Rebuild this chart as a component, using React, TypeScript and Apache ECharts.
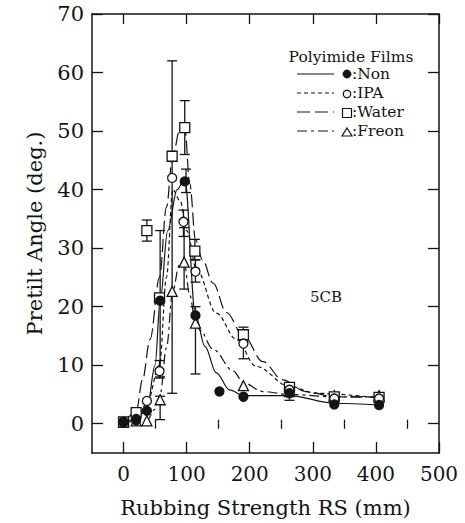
import React, { useEffect, useRef } from "react";
import * as echarts from "echarts";

const FONT = "DejaVu Serif";
const INK = "#141414";

// axis ticks
const xTickLabels = [0, 100, 200, 300, 400, 500];
const xMinorTicks = [50, 150, 250, 350, 450];
const yTickLabels = [0, 10, 20, 30, 40, 50, 60, 70];

// measured points (RS in mm, pretilt angle in deg)
const nonRS = [0, 20, 37, 58, 97, 114, 152, 190, 263, 334, 405];
const nonAngle = [0.3, 0.8, 2.2, 21.0, 41.4, 18.5, 5.5, 4.6, 5.2, 3.3, 3.2];

const ipaRS = [0, 20, 37, 57, 77, 95, 114, 190, 263, 334, 405];
const ipaAngle = [0.3, 0.6, 3.9, 9.0, 42.0, 34.5, 26.0, 13.7, 5.8, 4.3, 4.3];

const waterRS = [0, 20, 37, 57, 77, 97, 113, 190, 263, 334, 405];
const waterAngle = [0.3, 1.9, 33.0, 21.5, 45.7, 50.6, 29.5, 15.2, 6.2, 4.6, 4.5];

const freonRS = [0, 20, 37, 58, 77, 96, 114, 190, 263, 334, 405];
const freonAngle = [0.3, 0.5, 0.5, 4.1, 22.6, 27.6, 17.2, 6.5, 5.5, 4.8, 4.8];

// guide curves
const nonCurveRS = [0, 20, 37, 50, 58, 70, 85, 97, 114, 129, 147, 168, 190, 263, 334, 405];
const nonCurveAngle = [0.2, 0.8, 2.4, 10, 21, 33, 40, 41.8, 18.6, 13.2, 8.7, 5.8, 4.8, 4.8, 3.5, 3.2];

const ipaCurveRS = [0, 20, 37, 57, 68, 78, 90, 100, 116, 147, 179, 210, 263, 305, 405];
const ipaCurveAngle = [0.2, 0.6, 3.5, 10, 25, 40, 38, 33, 26.3, 18.9, 14.4, 9.8, 6.4, 5.2, 4.4];

const waterCurveRS = [0, 20, 30, 42, 57, 68, 78, 90, 97, 105, 114, 125, 142, 163, 190, 221, 252, 289, 334, 405];
const waterCurveAngle = [0.2, 2, 7.5, 14.4, 25, 37, 46, 50.5, 50.6, 41, 31.5, 28, 24, 19, 15, 10.6, 7.5, 5.5, 4.6, 4.6];

const freonCurveRS = [0, 20, 37, 50, 58, 68, 78, 88, 96, 105, 114, 121, 142, 174, 190, 221, 263, 334, 405];
const freonCurveAngle = [0.2, 0.4, 0.6, 2.5, 5, 13, 22.6, 27, 27.5, 22, 17.2, 16, 12.7, 9, 7, 5.5, 5, 4.6, 4.6];

// error bars
const errRS = [37, 57, 58, 58, 77, 97, 99, 95, 96, 113, 114, 114, 190, 263];
const errLow = [31.2, 7.8, 0.7, 8, 5.2, 46, 39.5, 32, 23, 28, 24.2, 8.5, 11.1, 4.0];
const errHigh = [34.8, 10.8, 4.7, 33, 62, 55.2, 43.5, 36.5, 33.5, 31.5, 28, 20, 16.5, 7.0];

const zip = (xs: number[], ys: number[]) => xs.map((x, i) => [x, ys[i]]);

const legendRows = [
  { label: ":Non", dash: null as number[] | null, mark: "fcircle" },
  { label: ":IPA", dash: [4, 3], mark: "circle" },
  { label: ":Water", dash: [13, 5], mark: "rect" },
  { label: ":Freon", dash: [10, 4, 3, 4], mark: "triangle" },
];

function buildLegend() {
  const els: any[] = [];
  els.push({
    type: "text",
    x: 351,
    y: 57,
    style: { text: "Polyimide Films", font: `15.5px '${FONT}'`, fill: INK, textAlign: "center", textVerticalAlign: "middle" },
  });
  const ys = [74, 93, 112, 131];
  legendRows.forEach((r, i) => {
    const y = ys[i];
    els.push({
      type: "line",
      shape: { x1: 297, y1: y, x2: 334, y2: y },
      style: { stroke: INK, lineWidth: 1.2, lineDash: r.dash || undefined },
    });
    const mx = 347;
    if (r.mark === "fcircle") {
      els.push({ type: "circle", shape: { cx: mx, cy: y, r: 4 }, style: { fill: INK, stroke: INK } });
    } else if (r.mark === "circle") {
      els.push({ type: "circle", shape: { cx: mx, cy: y + 1, r: 3.8 }, style: { fill: "#fff", stroke: INK, lineWidth: 1.2 } });
    } else if (r.mark === "rect") {
      els.push({ type: "rect", shape: { x: mx - 4.5, y: y - 3.5, width: 9, height: 9 }, style: { fill: "#fff", stroke: INK, lineWidth: 1.2 } });
    } else {
      els.push({
        type: "polygon",
        shape: { points: [[mx, y - 3], [mx + 5, y + 5], [mx - 5, y + 5]] },
        style: { fill: "#fff", stroke: INK, lineWidth: 1.2 },
      });
    }
    els.push({
      type: "text",
      x: 352,
      y: y,
      style: { text: r.label, font: `15.5px '${FONT}'`, fill: INK, textAlign: "left", textVerticalAlign: "middle" },
    });
  });
  els.push({
    type: "text",
    x: 326,
    y: 297,
    style: { text: "5CB", font: `15px '${FONT}'`, fill: INK, textAlign: "center", textVerticalAlign: "middle" },
  });
  return els;
}

export default function App() {
  const ref = useRef<HTMLDivElement>(null);
  useEffect(() => {
    if (!ref.current) return;
    const chart = echarts.init(ref.current, null, { renderer: "svg" });
    const axisLine = { show: true, onZero: false, lineStyle: { color: INK, width: 1.5 } };
    const tickStyle = { color: INK, width: 1.3 };
    const xBase = { type: "value", min: -50, max: 500, splitLine: { show: false } };
    const yBase = { type: "value", min: -5, max: 70, splitLine: { show: false } };

    const lineSeries = (name: string, xs: number[], ys: number[], dash: any) => ({
      name,
      type: "line",
      data: zip(xs, ys),
      showSymbol: false,
      symbol: "none",
      smooth: 0.35,
      smoothMonotone: "x",
      lineStyle: { color: INK, width: 1.2, type: dash },
      z: 2,
      silent: true,
    });
    const scatter = (name: string, xs: number[], ys: number[], symbol: string, size: number, filled: boolean) => ({
      name,
      type: "scatter",
      data: zip(xs, ys),
      symbol,
      symbolSize: size,
      itemStyle: { color: filled ? INK : "#fff", borderColor: INK, borderWidth: 1.3, opacity: 1 },
      z: 5,
    });

    chart.setOption({
      animation: false,
      backgroundColor: "#fff",
      grid: { left: 92, right: 26, top: 14, bottom: 70, containLabel: false },
      xAxis: [
        {
          ...xBase,
          position: "bottom",
          axisLine,
          axisTick: { show: true, inside: true, length: 11, customValues: xTickLabels, lineStyle: tickStyle },
          axisLabel: { show: true, customValues: xTickLabels, fontFamily: FONT, fontSize: 20, color: INK, margin: 11 },
          name: "Rubbing Strength RS (mm)",
          nameLocation: "middle",
          nameGap: 44,
          nameTextStyle: { fontFamily: FONT, fontSize: 21, color: INK },
        },
        {
          ...xBase,
          position: "bottom",
          axisLine: { show: false },
          axisTick: { show: true, inside: true, length: 4, customValues: xMinorTicks, lineStyle: tickStyle },
          axisLabel: { show: false },
        },
        {
          ...xBase,
          position: "top",
          axisLine,
          axisTick: { show: true, inside: true, length: 10, customValues: xTickLabels, lineStyle: tickStyle },
          axisLabel: { show: false },
        },
        {
          ...xBase,
          position: "top",
          axisLine: { show: false },
          axisTick: { show: true, inside: true, length: 5, customValues: xMinorTicks, lineStyle: tickStyle },
          axisLabel: { show: false },
        },
      ],
      yAxis: [
        {
          ...yBase,
          position: "left",
          axisLine,
          axisTick: { show: true, inside: true, length: 11, customValues: yTickLabels, lineStyle: tickStyle },
          axisLabel: { show: true, customValues: yTickLabels, fontFamily: FONT, fontSize: 21, color: INK, margin: 8 },
          name: "Pretilt Angle (deg.)",
          nameLocation: "middle",
          nameGap: 47,
          nameTextStyle: { fontFamily: FONT, fontSize: 21, color: INK },
        },
        {
          ...yBase,
          position: "right",
          axisLine,
          axisTick: { show: true, inside: true, length: 11, customValues: yTickLabels, lineStyle: tickStyle },
          axisLabel: { show: false },
        },
      ],
      series: [
        lineSeries("Non curve", nonCurveRS, nonCurveAngle, "solid"),
        lineSeries("IPA curve", ipaCurveRS, ipaCurveAngle, [4, 3]),
        lineSeries("Water curve", waterCurveRS, waterCurveAngle, [13, 5]),
        lineSeries("Freon curve", freonCurveRS, freonCurveAngle, [10, 4, 3, 4]),
        {
          name: "error",
          type: "custom",
          data: errRS.map((x, i) => [x, errLow[i], errHigh[i]]),
          encode: { x: 0, y: [1, 2] },
          z: 3,
          silent: true,
          renderItem: (params: any, api: any) => {
            const x = api.value(0);
            const lo = api.coord([x, api.value(1)]);
            const hi = api.coord([x, api.value(2)]);
            const w = 5;
            const st = { stroke: INK, lineWidth: 1.3 };
            return {
              type: "group",
              children: [
                { type: "line", shape: { x1: lo[0], y1: lo[1], x2: hi[0], y2: hi[1] }, style: st },
                { type: "line", shape: { x1: lo[0] - w, y1: lo[1], x2: lo[0] + w, y2: lo[1] }, style: st },
                { type: "line", shape: { x1: hi[0] - w, y1: hi[1], x2: hi[0] + w, y2: hi[1] }, style: st },
              ],
            };
          },
        },
        scatter("Freon", freonRS, freonAngle, "triangle", 10, false),
        scatter("Water", waterRS, waterAngle, "rect", 10, false),
        scatter("IPA", ipaRS, ipaAngle, "circle", 9, false),
        scatter("Non", nonRS, nonAngle, "circle", 9, true),
      ],
      graphic: buildLegend(),
    });
    return () => chart.dispose();
  }, []);
  return <div ref={ref} style={{ width: 465, height: 523, position: "absolute", left: 0, top: 0, background: "#fff" }} />;
}
